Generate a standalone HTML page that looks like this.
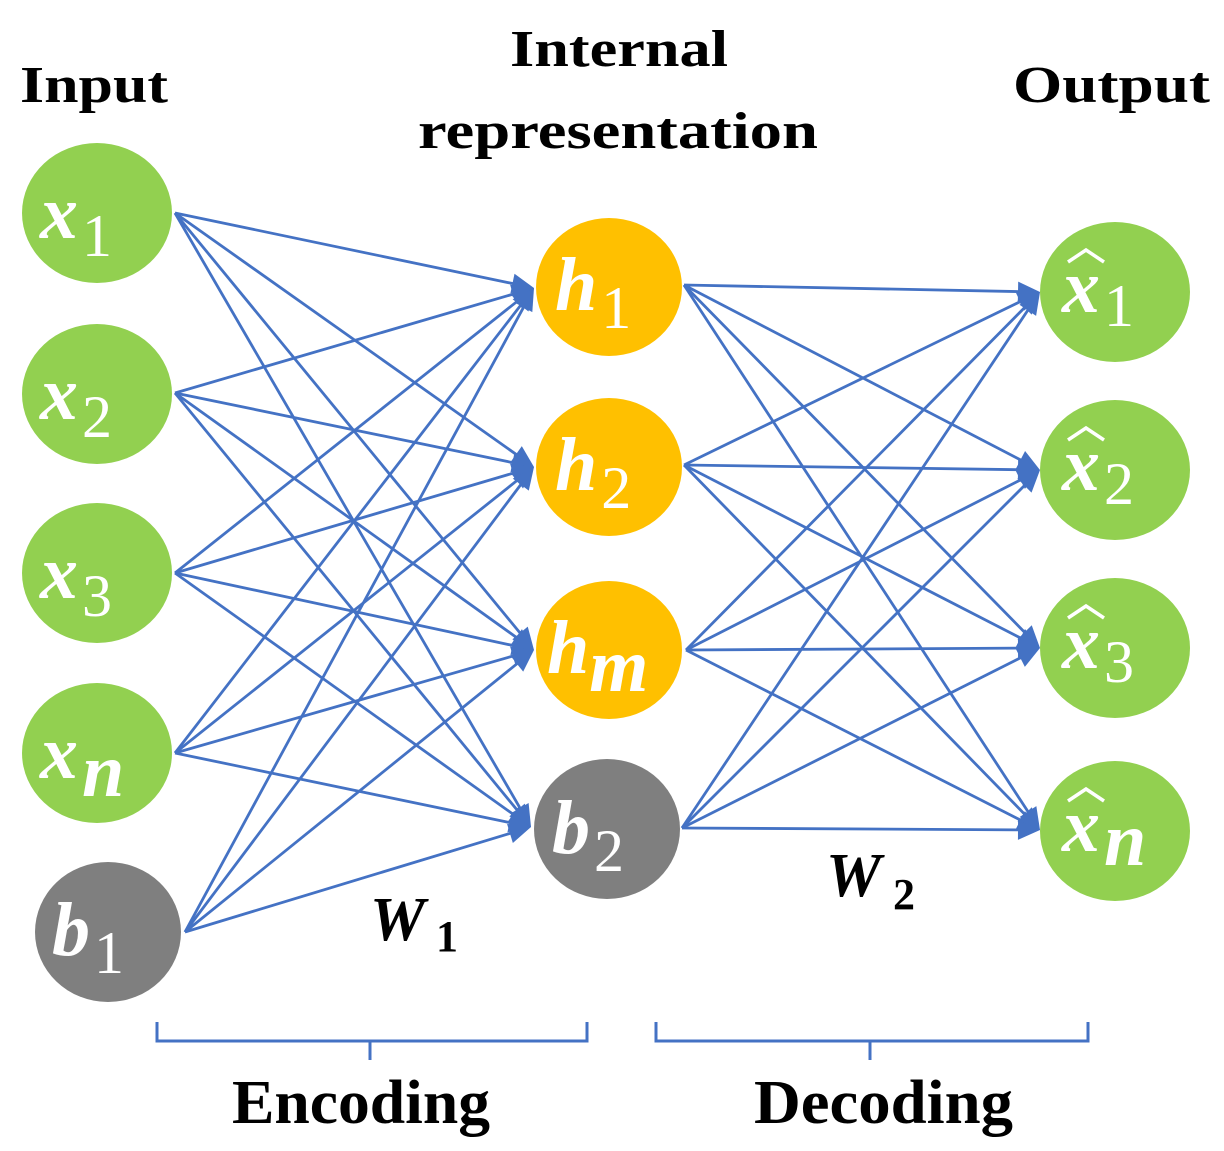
<!DOCTYPE html>
<html><head><style>
html,body{margin:0;padding:0;background:#fff;}
svg{display:block;}
.t{font-family:"Liberation Serif",serif;font-weight:bold;fill:#000;}
.v{font-family:"Liberation Serif",serif;font-weight:bold;font-style:italic;fill:#fff;font-size:76px;}
.s{font-family:"Liberation Serif",serif;fill:#fff;font-size:60px;font-style:normal;font-weight:normal;}
</style></head><body>
<svg width="1224" height="1151" viewBox="0 0 1224 1151" xmlns="http://www.w3.org/2000/svg">
<text class="t" x="20" y="102" font-size="52" textLength="148" lengthAdjust="spacingAndGlyphs">Input</text>
<text class="t" x="510" y="66" font-size="52" textLength="218" lengthAdjust="spacingAndGlyphs">Internal</text>
<text class="t" x="418" y="148" font-size="52" textLength="400" lengthAdjust="spacingAndGlyphs">representation</text>
<text class="t" x="1013" y="102" font-size="52" textLength="197" lengthAdjust="spacingAndGlyphs">Output</text>

<g>
<ellipse cx="97" cy="213" rx="75" ry="70" fill="#92D050"/>
<ellipse cx="97" cy="394" rx="75" ry="70" fill="#92D050"/>
<ellipse cx="97" cy="573" rx="75" ry="70" fill="#92D050"/>
<ellipse cx="97" cy="753" rx="75" ry="70" fill="#92D050"/>
<ellipse cx="108" cy="932" rx="73" ry="70" fill="#7F7F7F"/>
<ellipse cx="609" cy="287" rx="73" ry="69" fill="#FFC000"/>
<ellipse cx="609" cy="467" rx="73" ry="69" fill="#FFC000"/>
<ellipse cx="609" cy="650" rx="73" ry="69" fill="#FFC000"/>
<ellipse cx="607" cy="829" rx="73" ry="70" fill="#7F7F7F"/>
<ellipse cx="1115" cy="292" rx="75" ry="70" fill="#92D050"/>
<ellipse cx="1115" cy="470" rx="75" ry="70" fill="#92D050"/>
<ellipse cx="1115" cy="648" rx="75" ry="70" fill="#92D050"/>
<ellipse cx="1115" cy="831" rx="75" ry="70" fill="#92D050"/>
</g>

<g stroke="#4472C4" stroke-width="2.8" fill="#4472C4" id="lines"></g>

<g>
<text class="v" x="40" y="238">x<tspan class="s" dx="4" dy="18">1</tspan></text>
<text class="v" x="40" y="419">x<tspan class="s" dx="4" dy="18">2</tspan></text>
<text class="v" x="40" y="598">x<tspan class="s" dx="4" dy="18">3</tspan></text>
<text class="v" x="40" y="778">x<tspan class="v" dx="4" dy="18" font-size="64">n</tspan></text>
<text class="v" x="52" y="955">b<tspan class="s" dx="4" dy="18">1</tspan></text>
<text class="v" x="555" y="310">h<tspan class="s" dx="4" dy="18">1</tspan></text>
<text class="v" x="555" y="490">h<tspan class="s" dx="4" dy="18">2</tspan></text>
<text class="v" x="547" y="673">h<tspan class="v" dx="0" dy="18" font-size="60">m</tspan></text>
<text class="v" x="552" y="853">b<tspan class="s" dx="4" dy="18">2</tspan></text>
<text class="v" x="1062" y="312">x<tspan class="s" dx="4" dy="14">1</tspan></text>
<text class="v" x="1062" y="490">x<tspan class="s" dx="4" dy="14">2</tspan></text>
<text class="v" x="1062" y="668">x<tspan class="s" dx="4" dy="14">3</tspan></text>
<text class="v" x="1062" y="851">x<tspan class="v" dx="4" dy="14" font-size="62">n</tspan></text>
<g stroke="#fff" stroke-width="3.5" fill="none">
<path d="M1068 262 L1086 250 L1104 262"/>
<path d="M1068 440 L1086 428 L1104 440"/>
<path d="M1068 618 L1086 606 L1104 618"/>
<path d="M1068 801 L1086 789 L1104 801"/>
</g>
</g>

<text class="t" x="370" y="940" font-size="62" font-style="italic">W</text>
<text class="t" x="436" y="951" font-size="44">1</text>
<text class="t" x="826" y="896" font-size="62" font-style="italic">W</text>
<text class="t" x="893" y="909" font-size="44">2</text>

<g stroke="#4472C4" stroke-width="3" fill="none">
<path d="M157 1022 L157 1041 L587 1041 L587 1022 M370 1041 L370 1060"/>
<path d="M656 1022 L656 1041 L1088 1041 L1088 1022 M870 1041 L870 1060"/>
</g>
<text class="t" x="232" y="1123" font-size="62" textLength="258" lengthAdjust="spacingAndGlyphs">Encoding</text>
<text class="t" x="754" y="1123" font-size="62" textLength="259" lengthAdjust="spacingAndGlyphs">Decoding</text>

<script>
(function(){
var g=document.getElementById('lines');var ns='http://www.w3.org/2000/svg';
function arrow(x1,y1,x2,y2){
 var dx=x2-x1,dy=y2-y1,L=Math.sqrt(dx*dx+dy*dy),ux=dx/L,uy=dy/L;
 var hl=22,hw=10;var bx=x2-ux*hl,by=y2-uy*hl;
 var l=document.createElementNS(ns,'line');
 l.setAttribute('x1',x1);l.setAttribute('y1',y1);l.setAttribute('x2',bx+ux*2);l.setAttribute('y2',by+uy*2);g.appendChild(l);
 var p=document.createElementNS(ns,'polygon');
 p.setAttribute('points',x2+','+y2+' '+(bx-uy*hw)+','+(by+ux*hw)+' '+(bx+uy*hw)+','+(by-ux*hw));
 p.setAttribute('stroke','none');g.appendChild(p);
}
var ins=[[175,213],[175,393],[175,573],[175,753],[185,932]];
var hin=[[534,288],[534,467],[534,650],[531,827]];
var hout=[[684,285],[684,465],[686,650],[682,828]];
var outs=[[1040,292],[1040,470],[1040,648],[1040,830]];
ins.forEach(function(a){hin.forEach(function(b){arrow(a[0],a[1],b[0],b[1]);});});
hout.forEach(function(a){outs.forEach(function(b){arrow(a[0],a[1],b[0],b[1]);});});
})();
</script>
</svg>
</body></html>
